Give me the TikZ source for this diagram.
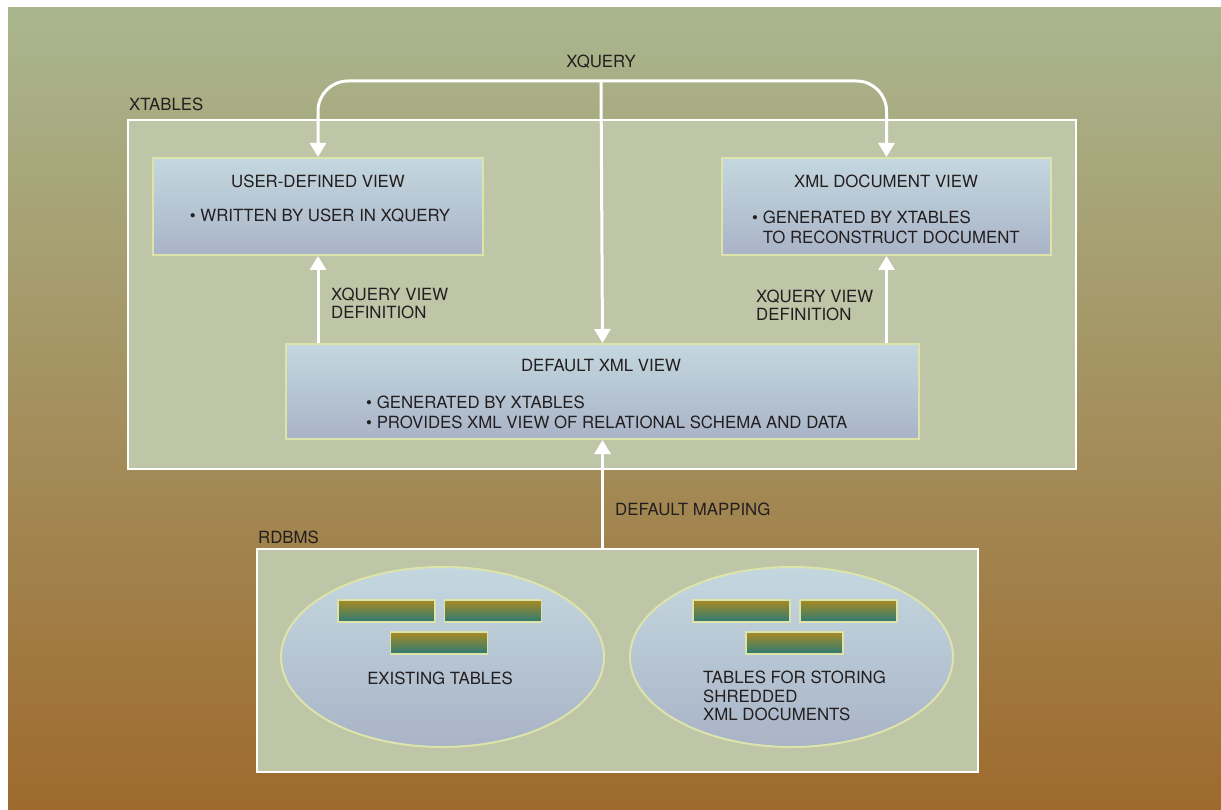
\documentclass[tikz,border=0pt]{standalone}
\usepackage{fontspec}
\setmainfont{TeX Gyre Heros}
\usetikzlibrary{arrows.meta,shapes.geometric}
\definecolor{bgtop}{HTML}{AAB68F}
\definecolor{bgmid}{HTML}{A99A6B}
\definecolor{bgbot}{HTML}{9E6A2D}
\definecolor{boxfill}{HTML}{BFC5A7}
\definecolor{viewtop}{HTML}{C4D7DF}
\definecolor{viewbot}{HTML}{A9B4C7}
\definecolor{rim}{HTML}{DCE4A9}
\definecolor{bartop}{HTML}{A88A22}
\definecolor{barbot}{HTML}{2C7A74}
\definecolor{txt}{HTML}{231F20}
\tikzset{
  every node/.style={font=\fontsize{16.8}{20}\selectfont, text=txt},
  groupbox/.style={draw=white, line width=1.5pt, fill=boxfill, inner sep=0pt},
  viewbox/.style={draw=rim, line width=2pt, top color=viewtop, bottom color=viewbot, inner sep=0pt},
  tabbar/.style={draw=rim, line width=1.5pt, top color=bartop, bottom color=barbot, minimum width=97pt, minimum height=22pt, inner sep=0pt},
  oval/.style={ellipse, draw=rim, line width=2pt, top color=viewtop, bottom color=viewbot, minimum width=323pt, minimum height=180pt, inner sep=0pt},
  lbl/.style={inner sep=0pt},
  warrow/.style={draw=white, line width=3pt, -{Triangle[width=16pt,length=14pt]}},
}
\begin{document}
\begin{tikzpicture}[x=1pt,y=-1pt]
\useasboundingbox (0,0) rectangle (1221,810);
\fill[white] (0,0) rectangle (1221,810);
\shade[top color=bgtop, middle color=bgmid, bottom color=bgbot] (8,8) rectangle (1221,810);

% group boxes
\node[groupbox, minimum width=948pt, minimum height=349pt] (xtables) at (602,294.5) {};
\node[lbl, anchor=west] (xtlbl) at (129,104) {XTABLES};
\node[groupbox, minimum width=721pt, minimum height=223pt] (rdbms) at (617.5,660.5) {};
\node[lbl, anchor=west] (rdlbl) at (258,537) {RDBMS};

% views
\node[viewbox, minimum width=330pt, minimum height=97pt] (udv) at (318,206.5) {};
\node[lbl] (udvt) at (318,181) {USER-DEFINED VIEW};
\node[lbl] (udvb) at (320,216) {\textbullet\ WRITTEN BY USER IN XQUERY};

\node[viewbox, minimum width=329pt, minimum height=97pt] (xdv) at (886.5,206.5) {};
\node[lbl] (xdvt) at (886,181) {XML DOCUMENT VIEW};
\node[lbl, anchor=west, align=left] (xdvb) at (752,227) {\textbullet\ GENERATED BY XTABLES\\\phantom{\textbullet\ }TO RECONSTRUCT DOCUMENT};

\node[viewbox, minimum width=633pt, minimum height=95pt] (dflt) at (602.5,391.5) {};
\node[lbl] (dfltt) at (601,366) {DEFAULT XML VIEW};
\node[lbl, anchor=west, align=left] (dfltb) at (366,412) {\textbullet\ GENERATED BY XTABLES\\\textbullet\ PROVIDES XML VIEW OF RELATIONAL SCHEMA AND DATA};

% ellipses with tables
\node[oval] (etab) at (442.5,657) {};
\node[oval] (stab) at (791.5,657) {};
\node[tabbar] (b1) at (386.5,611) {};
\node[tabbar] (b2) at (493,611) {};
\node[tabbar] (b3) at (439,643) {};
\node[tabbar] (b4) at (741.5,611) {};
\node[tabbar] (b5) at (848.5,611) {};
\node[tabbar] (b6) at (794.5,643) {};
\node[lbl] (etabl) at (440,678) {EXISTING TABLES};
\node[lbl, anchor=west, align=left, font=\fontsize{16.8}{18.5}\selectfont] (stabl) at (703,696) {TABLES FOR STORING\\SHREDDED\\XML DOCUMENTS};

% labels
\node[lbl] (xq) at (601,62) {XQUERY};
\coordinate (jn) at (601,81);
\node[lbl, anchor=west, align=left, font=\fontsize{16.8}{18}\selectfont] (vdl) at (331,303) {XQUERY VIEW\\DEFINITION};
\node[lbl, anchor=west, align=left, font=\fontsize{16.8}{18}\selectfont] (vdr) at (756,305) {XQUERY VIEW\\DEFINITION};
\node[lbl, anchor=west] (dmap) at (615,509) {DEFAULT MAPPING};

% connectors
\draw[warrow, {Triangle[width=16pt,length=14pt]}-{Triangle[width=16pt,length=14pt]}, rounded corners=30pt] (udv.north) |- (jn) -| (xdv.north);
\draw[warrow] (jn) -- (dflt.north);
\draw[warrow] (udv.south |- dflt.north) -- (udv.south);
\draw[warrow] (xdv.south |- dflt.north) -- (xdv.south);
\draw[warrow] (rdbms.north -| dflt.south) -- (dflt.south);
\end{tikzpicture}
\end{document}
